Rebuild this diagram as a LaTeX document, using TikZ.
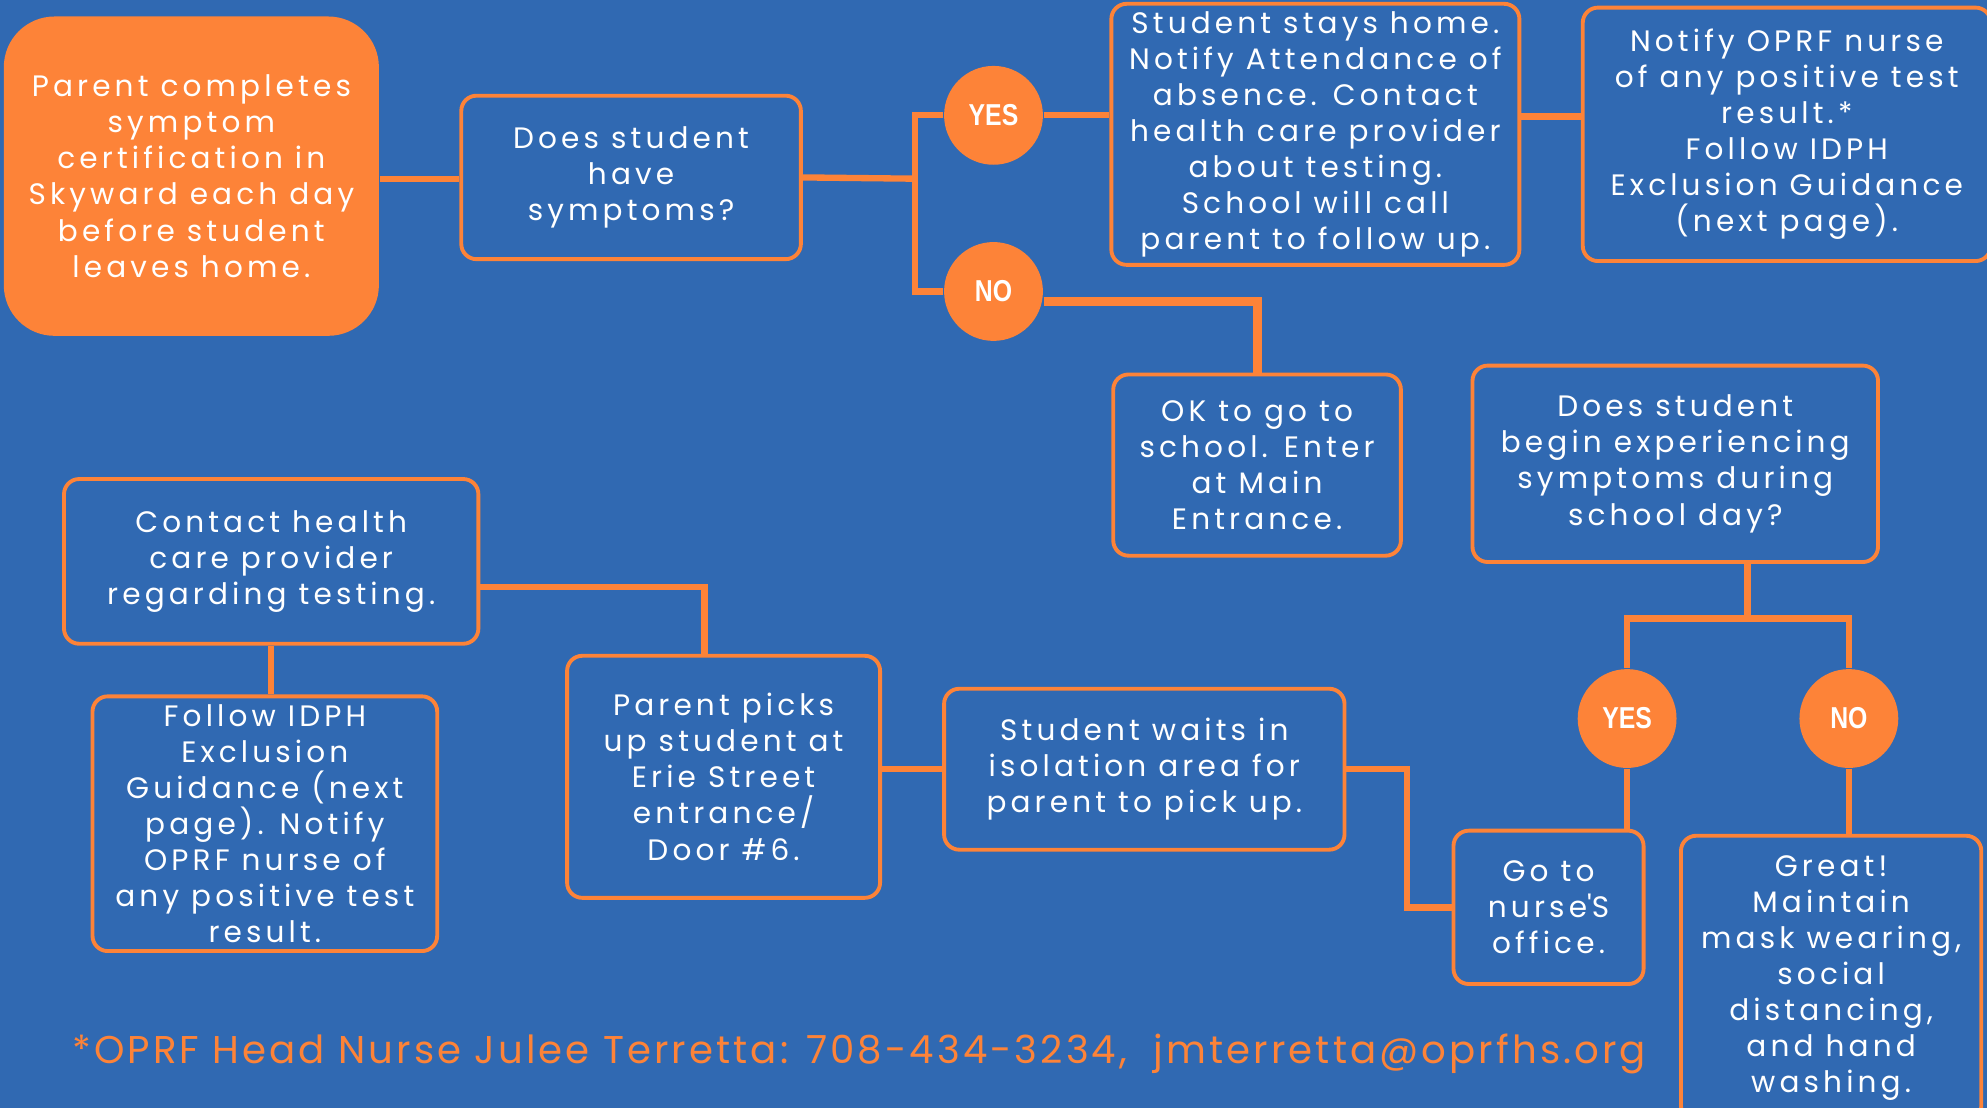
\documentclass[tikz,border=0pt]{standalone}
\usepackage{fontspec}
\setmainfont{Poppins}[LetterSpace=8]
\newfontfamily\boxfont{Poppins}[LetterSpace=14]
\newfontfamily\yesfont{Liberation Sans}[FakeStretch=0.82]
\usetikzlibrary{calc}
\definecolor{oprfblue}{HTML}{3069B2}
\definecolor{oprforange}{HTML}{FD8338}
\newcommand{\upx}{0.012672cm}

\begin{document}
\begin{tikzpicture}[x=\upx, y=-\upx,
      stepbox/.style={draw=oprforange, line width=1.1pt, rounded corners=12*\upx,
        text=white, align=center, inner sep=0pt,
        font=\boxfont\fontsize{8.4}{10.25}\selectfont},
      startbox/.style={fill=oprforange, rounded corners=40*\upx, text=white,
        align=center, inner sep=0pt, font=\boxfont\fontsize{8.4}{10.25}\selectfont},
      answer/.style={circle, fill=oprforange, text=white, inner sep=0pt,
        minimum size=78*\upx, font=\yesfont\bfseries\fontsize{8.6}{9}\selectfont},
      link/.style={draw=oprforange, line width=1.8pt},
      thicklink/.style={draw=oprforange, line width=2.6pt}]
  \clip (0,0) rectangle (1568,874);
  \fill[oprfblue] (0,0) rectangle (1568,874);

  \node[startbox, minimum width=296*\upx, minimum height=252*\upx] (parent) at (151,139)
    {Parent completes\\symptom\\certification in\\Skyward each day\\before student\\leaves home.};
  \node[stepbox, minimum width=268*\upx, minimum height=129*\upx] (symptoms) at (498,140)
    {Does student\\have\\symptoms?};
  \node[answer] (yes1) at (784,91) {YES};
  \node[answer] (no1) at (784,230) {NO};
  \node[stepbox, minimum width=322*\upx, minimum height=206*\upx] (home) at (1038,106)
    {Student stays home.\\Notify Attendance of\\absence. Contact\\health care provider\\about testing.\\School will call\\parent to follow up.};
  \node[stepbox, minimum width=322*\upx, minimum height=200*\upx] (notify) at (1410,106)
    {Notify OPRF nurse\\of any positive test\\result.*\\Follow IDPH\\Exclusion Guidance\\(next page).};
  \node[stepbox, minimum width=227*\upx, minimum height=143*\upx] (ok) at (992,367)
    {OK to go to\\school. Enter\\at Main\\Entrance.};
  \node[stepbox, minimum width=320*\upx, minimum height=155*\upx] (during) at (1322,366)
    {Does student\\begin experiencing\\symptoms during\\school day?};
  \node[answer] (yes2) at (1284,567) {YES};
  \node[answer] (no2) at (1459,567) {NO};
  \node[stepbox, minimum width=150*\upx, minimum height=121*\upx] (nurse) at (1222,716)
    {Go to\\nurse\textquotesingle S\\office.};
  \node[stepbox, minimum width=237*\upx, minimum height=225*\upx] (great) at (1445,772)
    {Great!\\Maintain\\mask wearing,\\social\\distancing,\\and hand\\washing.};
  \node[stepbox, minimum width=316*\upx, minimum height=127*\upx] (wait) at (903,607)
    {Student waits in\\isolation area for\\parent to pick up.};
  \node[stepbox, minimum width=247*\upx, minimum height=191*\upx] (pickup) at (571,613)
    {Parent picks\\up student at\\Erie Street\\entrance/\\Door \#6.};
  \node[stepbox, minimum width=327*\upx, minimum height=130*\upx] (contact) at (214,443)
    {Contact health\\care provider\\regarding testing.};
  \node[stepbox, minimum width=272*\upx, minimum height=201*\upx] (follow) at (209,650)
    {Follow IDPH\\Exclusion\\Guidance (next\\page). Notify\\OPRF nurse of\\any positive test\\result.};
  \node[text=oprforange, font=\fontsize{11}{13}\selectfont] (footer) at (678,832)
    {*OPRF Head Nurse Julee Terretta: 708-434-3234,\ \ jmterretta@oprfhs.org};

  \coordinate (split1) at (722,141);
  \coordinate (split2) at (1379,488);
  \coordinate (elbow) at (556,463);

  \draw[link] (parent.east |- split1) -- (symptoms.west |- split1);
  \draw[link] (symptoms.east) -- (split1);
  \draw[link] (yes1.west) -| (split1) |- (no1.west);
  \draw[link] (yes1.east) -- (yes1.east -| home.west);
  \draw[link] ($(home.east)+(0,-14)$) -- ($(notify.west)+(0,-14)$);
  \draw[thicklink] ($(no1.east)+(0,8)$) -| (ok.north);
  \draw[link] ($(ok.east)+(0,-47)$) -- ($(ok.east)+(0,-47)$ -| during.west);
  \draw[link] (split2 |- during.south) -- (split2);
  \draw[link] (yes2.north) |- (split2) -| (no2.north);
  \draw[link] (yes2.south) -- (yes2.south |- nurse.north);
  \draw[link] (no2.south) -- (no2.south |- great.north);
  \draw[link] (wait.east) -- ++(48,0) |- (nurse.west);
  \draw[link] (wait.west) -- (wait.west -| pickup.east);
  \draw[link] (elbow |- pickup.north) -- (elbow) -- (elbow -| contact.east);
  \draw[link] (contact.south) -- (contact.south |- follow.north);
\end{tikzpicture}
\end{document}
